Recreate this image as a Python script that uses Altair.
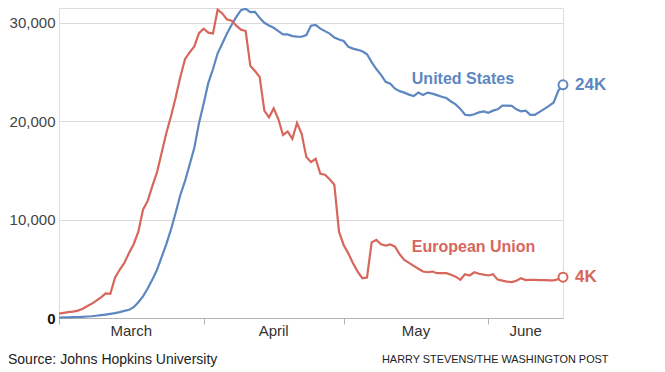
import altair as alt
import pandas as pd

# ---- data (7-day average of new daily cases), day 0 = March 1 ----
days = list(range(109))
us = [50, 60, 70, 80, 100, 120, 150, 180, 230, 290,
      350, 420, 500, 600, 720, 830, 1100, 1600, 2200, 3000,
      3900, 4900, 6200, 7500, 9000, 10700, 12500, 13900, 15600, 17300,
      19800, 21800, 23900, 25300, 26900, 27900, 28900, 29800, 30600, 31280,
      31420, 31080, 31110, 30500, 30000, 29730, 29490, 29160, 28820, 28820,
      28650, 28600, 28580, 28750, 29700, 29780, 29400, 29150, 28900, 28500,
      28300, 28150, 27550, 27370, 27250, 27100, 26800, 26000, 25300, 24700,
      24000, 23800, 23300, 23050, 22900, 22700, 22550, 22900, 22650, 22900,
      22800, 22650, 22480, 22350, 22000, 21700, 21250, 20650, 20600, 20700,
      20900, 21000, 20850, 21070, 21200, 21580, 21580, 21550, 21200, 21000,
      21070, 20650, 20650, 20950, 21250, 21550, 21900, 23100, 23700]
eu = [450, 520, 590, 650, 750, 920, 1200, 1440, 1760, 2100,
      2500, 2450, 4100, 4900, 5600, 6600, 7500, 8770, 11000, 11900,
      13400, 14800, 16800, 18800, 20500, 22400, 24500, 26300, 27000, 27600,
      28950, 29390, 28990, 28920, 31340, 30950, 30330, 30200, 29700, 29300,
      29160, 25620, 25100, 24500, 21070, 20390, 21300, 20220, 18600, 18950,
      18200, 19820, 18710, 16350, 15840, 16180, 14660, 14560, 14090, 13550,
      8770, 7420, 6570, 5560, 4720, 4045, 4115, 7685, 7930, 7480,
      7350, 7480, 7250, 6470, 5900, 5600, 5300, 5000, 4720, 4650,
      4720, 4550, 4550, 4550, 4400, 4200, 3880, 4450, 4320, 4650,
      4500, 4400, 4320, 4450, 3900, 3800, 3700, 3650, 3780, 4045,
      3850, 3880, 3870, 3850, 3840, 3830, 3830, 3950, 4150]

series_names = ["United States", "European Union"]
line_colors = ["#5d87c1", "#d7675c"]
text_colors = ["#4a70a8", "#c4524b"]
end_labels = ["24K", "4K"]
name_label_day = [75.6, 75.6]
name_label_value = [24285, 7215]

month_names = ["March", "April", "May", "June"]
month_starts = [0, 31, 61, 92]
x_end = 108
y_ticks = [0, 10000, 20000, 30000]
y_max = 31500

source_text = "Source: Johns Hopkins University"
credit_text = "HARRY STEVENS/THE WASHINGTON POST"

FONT = "Liberation Sans"

# ---- tables ----
long_df = pd.concat([
    pd.DataFrame({"day": days, "value": us, "series": series_names[0]}),
    pd.DataFrame({"day": days, "value": eu, "series": series_names[1]}),
])
end_df = pd.DataFrame({
    "day": [days[-1], days[-1]],
    "value": [us[-1], eu[-1]],
    "series": series_names,
    "label": end_labels,
})
name_df = pd.DataFrame({
    "day": name_label_day,
    "value": name_label_value,
    "series": series_names,
})
bounds = month_starts + [x_end]
month_df = pd.DataFrame({
    "mid": [(bounds[i] + bounds[i + 1]) / 2 for i in range(len(month_names))],
    "zero": [0] * len(month_names),
    "month": month_names,
})

x_scale = alt.Scale(domain=[0, x_end], nice=False, zero=False)
y_scale = alt.Scale(domain=[0, y_max], nice=False)
x_axis = alt.Axis(values=month_starts, labels=False, grid=False, title=None,
                  domain=True, domainColor="#b3b3b3", ticks=True,
                  tickColor="#b3b3b3", tickSize=6)
y_axis = alt.Axis(values=y_ticks, labelExpr="format(datum.value, ',')", title=None,
                  domain=False, ticks=False, labelPadding=4, labelFontSize=15,
                  labelFont=FONT,
                  labelColor={"condition": {"test": "datum.value == 0", "value": "#111111"},
                              "value": "#444444"},
                  labelFontWeight={"condition": {"test": "datum.value == 0", "value": "bold"},
                                   "value": "normal"},
                  gridColor="#dadada", gridWidth=1)


def xenc(field):
    return alt.X(f"{field}:Q", scale=x_scale, axis=x_axis)


def yenc(field):
    return alt.Y(f"{field}:Q", scale=y_scale, axis=y_axis)


line_color = alt.Color("series:N", scale=alt.Scale(domain=series_names, range=line_colors), legend=None)
text_color = alt.Color("series:N", scale=alt.Scale(domain=series_names, range=text_colors), legend=None)

lines = alt.Chart(long_df).mark_line(strokeWidth=2.2).encode(
    x=xenc("day"), y=yenc("value"), color=line_color, detail="series:N"
)

end_points = alt.Chart(end_df).mark_point(
    shape="circle", size=80, strokeWidth=2, filled=True, fill="white", opacity=1
).encode(
    x=xenc("day"), y=yenc("value"),
    stroke=alt.Stroke("series:N", scale=alt.Scale(domain=series_names, range=line_colors), legend=None),
)

end_text = alt.Chart(end_df).mark_text(
    align="left", baseline="middle", dx=12, fontSize=17, fontWeight="bold", font=FONT
).encode(x=xenc("day"), y=yenc("value"), text="label:N", color=text_color)

name_text = alt.Chart(name_df).mark_text(
    align="left", baseline="middle", fontSize=16, fontWeight="bold", font=FONT
).encode(x=xenc("day"), y=yenc("value"), text="series:N", color=text_color)

month_text = alt.Chart(month_df).mark_text(
    align="center", baseline="middle", dy=13, fontSize=15, font=FONT, color="#333333"
).encode(x=xenc("mid"), y=yenc("zero"), text="month:N")

source = alt.Chart(pd.DataFrame({"t": [source_text]})).mark_text(
    align="left", baseline="middle", fontSize=14, font=FONT, color="#222222"
).encode(text="t:N", x=alt.value(-51), y=alt.value(352))

credit = alt.Chart(pd.DataFrame({"t": [credit_text]})).mark_text(
    align="left", baseline="middle", fontSize=10.9, font=FONT, color="#222222"
).encode(text="t:N", x=alt.value(323), y=alt.value(352))

chart = alt.layer(lines, end_points, end_text, name_text, month_text, source, credit).properties(
    width=504, height=310,
    autosize=alt.AutoSizeParams(type="none"),
    padding={"left": 51, "top": 0, "right": 94, "bottom": 56},
).configure_view(stroke=None).configure(background="white")

chart.save("out.html", embed_options={"renderer": "svg", "actions": False})
